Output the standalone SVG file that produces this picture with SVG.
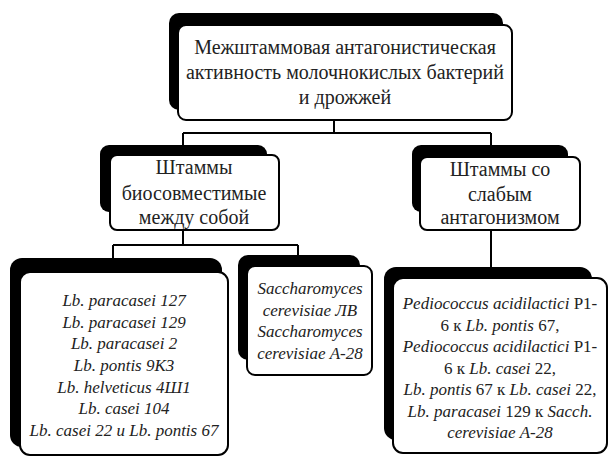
<svg xmlns="http://www.w3.org/2000/svg" width="609" height="457" viewBox="0 0 609 457">
<style>
.sh{fill:#000}
.bx{fill:#fff;stroke:#000;stroke-width:2}
text{font-family:'Liberation Serif','Times New Roman',serif;fill:#222;text-anchor:middle}
.h{font-size:20px}
.s{font-size:17px}
.i{font-style:italic}
.cn{fill:none;stroke:#000;stroke-width:2}
</style>
<rect width="609" height="457" fill="#fff"/>
<g id="connectors" class="cn">
<path d="M334 120V133M183 133H491M183 133V147M491 133V146"/>
<path d="M183 230V245M113 245H298M113 245V259M298 245V256"/>
<path d="M491 230V268"/>
</g>
<g id="root">
<rect class="sh" x="169" y="13" width="334" height="97" rx="10"/>
<rect class="bx" x="178" y="25" width="334" height="95" rx="8"/>
<text class="h" x="345" y="54">Межштаммовая антагонистическая</text>
<text class="h" x="345" y="79">активность молочнокислых бактерий</text>
<text class="h" x="345" y="104">и дрожжей</text>
</g>
<g id="biocompatible">
<rect class="sh" x="100" y="145" width="167" height="67" rx="9"/>
<rect class="bx" x="110" y="155" width="169" height="75" rx="7"/>
<text class="h" x="194" y="174">Штаммы</text>
<text class="h" x="194" y="200">биосовместимые</text>
<text class="h" x="194" y="224">между собой</text>
</g>
<g id="weak">
<rect class="sh" x="412" y="145" width="156" height="67" rx="9"/>
<rect class="bx" x="420" y="157" width="160" height="73" rx="7"/>
<text class="h" x="500" y="176">Штаммы со</text>
<text class="h" x="500" y="201">слабым</text>
<text class="h" x="500" y="224">антагонизмом</text>
</g>
<g id="lactobacilli">
<rect class="sh" x="10" y="258" width="212" height="189" rx="12"/>
<rect class="bx" x="20" y="272" width="208" height="183" rx="10"/>
<text class="s i" x="124" y="306">Lb. paracasei 127</text>
<text class="s i" x="124" y="328">Lb. paracasei 129</text>
<text class="s i" x="124" y="349">Lb. paracasei 2</text>
<text class="s i" x="124" y="371">Lb. pontis 9К3</text>
<text class="s i" x="124" y="393">Lb. helveticus 4Ш1</text>
<text class="s i" x="124" y="414">Lb. casei 104</text>
<text class="s i" x="124" y="436">Lb. casei 22 и Lb. pontis 67</text>
</g>
<g id="yeasts">
<rect class="sh" x="238" y="255" width="122" height="105" rx="10"/>
<rect class="bx" x="247" y="266" width="125" height="109" rx="8"/>
<text class="s i" x="310" y="294">Saccharomyces</text>
<text class="s i" x="310" y="316">cerevisiae ЛВ</text>
<text class="s i" x="310" y="337">Saccharomyces</text>
<text class="s i" x="310" y="359">cerevisiae А-28</text>
</g>
<g id="pairs">
<rect class="sh" x="384" y="267" width="208" height="173" rx="12"/>
<rect class="bx" x="393" y="278" width="214" height="175" rx="10"/>
<text class="s" x="500" y="309"><tspan class="i">Pediococcus acidilactici</tspan> P1-</text>
<text class="s" x="500" y="331">6 к <tspan class="i">Lb. pontis</tspan> 67,</text>
<text class="s" x="500" y="352"><tspan class="i">Pediococcus acidilactici</tspan> P1-</text>
<text class="s" x="500" y="374">6 к <tspan class="i">Lb. casei</tspan> 22,</text>
<text class="s" x="500" y="395"><tspan class="i">Lb. pontis</tspan> 67 к <tspan class="i">Lb. casei</tspan> 22,</text>
<text class="s" x="500" y="417"><tspan class="i">Lb. paracasei</tspan> 129 к <tspan class="i">Sacch.</tspan></text>
<text class="s i" x="500" y="438">cerevisiae А-28</text>
</g>
</svg>
